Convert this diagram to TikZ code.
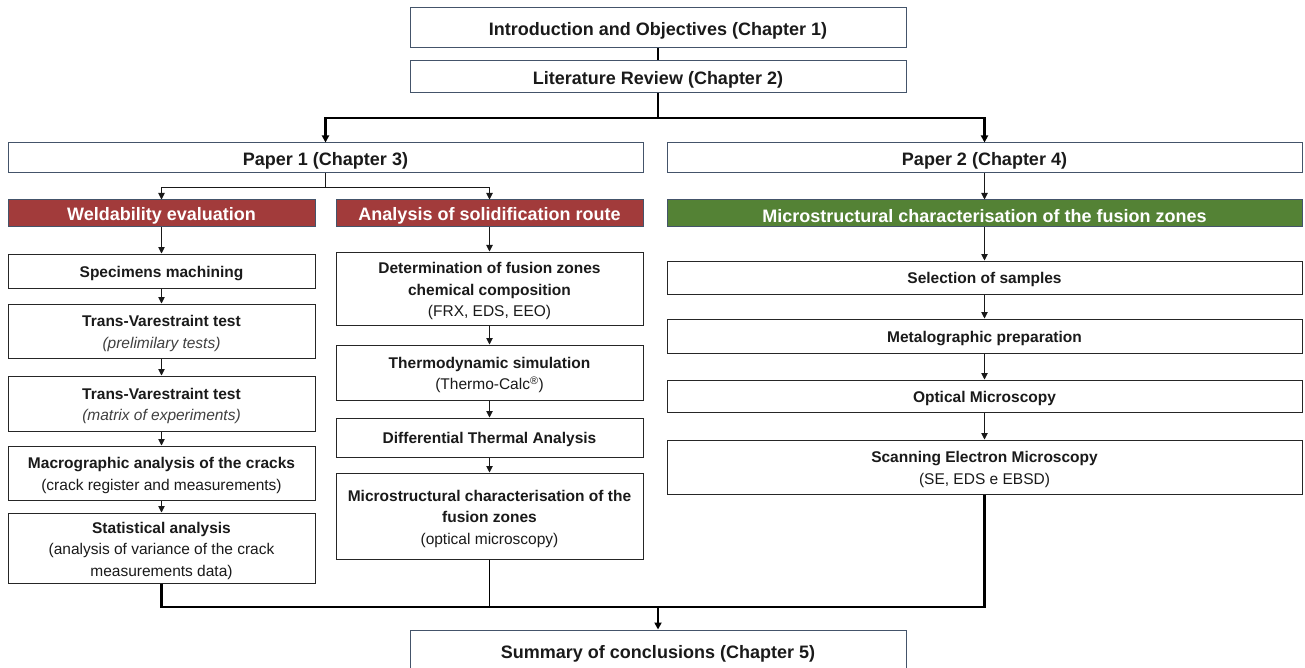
\documentclass[tikz,border=0pt]{standalone}
\usepackage{fontspec}
\setmainfont{Liberation Sans}
\usetikzlibrary{arrows.meta}
\definecolor{weldred}{HTML}{A23B3B}
\definecolor{fzgreen}{HTML}{548235}
\definecolor{slateb}{HTML}{44546A}
\definecolor{subgray}{HTML}{404040}
\definecolor{txtblack}{HTML}{1A1A1A}
\newcommand{\tstrut}{\rule{0pt}{16.5pt}}
\begin{document}
\begin{tikzpicture}[x=1pt,y=-1pt,
  topbox/.style={draw=slateb, line width=1pt, fill=white, inner sep=0pt, align=center, text=txtblack, font=\fontsize{18}{22}\selectfont\bfseries, execute at begin node={\rule{0pt}{18.5pt}}},
  hdrbox/.style={draw=slateb, line width=1pt, inner sep=0pt, align=center, text=white, font=\fontsize{18}{22}\selectfont\bfseries, execute at begin node={\rule{0pt}{18pt}}},
  stepbox/.style={draw=black!85, line width=1pt, fill=white, inner sep=0pt, align=center, text=txtblack, font=\fontsize{15.5}{21.5}\selectfont, execute at begin node={\rule{0pt}{16pt}}},
  arr/.style={line width=0.9pt, draw=black!90, -{Triangle[length=6.5pt,width=6.5pt]}},
  thk/.style={line width=2.2pt, draw=black},
  thkarr/.style={line width=2.2pt, draw=black, -{Triangle[length=7pt,width=7pt]}}
]
\useasboundingbox (0,0) rectangle (1305,668);

% top
\node[topbox, minimum width=496pt, minimum height=40pt] (intro) at (658,28) {Introduction and Objectives (Chapter 1)};
\node[topbox, minimum width=496pt, minimum height=32pt] (lit) at (658,77) {Literature Review (Chapter 2)};
\node[topbox, minimum width=635pt, minimum height=30pt] (p1) at (325.5,158) {Paper 1 (Chapter 3)};
\node[topbox, minimum width=635pt, minimum height=30pt] (p2) at (984.5,158) {Paper 2 (Chapter 4)};

% headers
\node[hdrbox, fill=weldred, minimum width=307pt, minimum height=27pt] (weld) at (161.5,213.5) {Weldability evaluation};
\node[hdrbox, fill=weldred, minimum width=307pt, minimum height=27pt] (anal) at (489.5,213.5) {Analysis of solidification route};
\node[hdrbox, fill=fzgreen, minimum width=635pt, minimum height=27pt] (green) at (984.5,213.5) {Microstructural characterisation of the fusion zones};

% left column
\node[stepbox, minimum width=307pt, minimum height=34pt] (spec) at (161.5,271) {\textbf{Specimens machining}};
\node[stepbox, minimum width=307pt, minimum height=54pt] (tv1) at (161.5,331) {\tstrut\textbf{Trans-Varestraint test}\\\textcolor{subgray}{\itshape (prelimilary tests)}};
\node[stepbox, minimum width=307pt, minimum height=55pt] (tv2) at (161.5,403.5) {\tstrut\textbf{Trans-Varestraint test}\\\textcolor{subgray}{\itshape (matrix of experiments)}};
\node[stepbox, minimum width=307pt, minimum height=54pt] (macro) at (161.5,473) {\tstrut\textbf{Macrographic analysis of the cracks}\\(crack register and measurements)};
\node[stepbox, minimum width=307pt, minimum height=70pt] (stat) at (161.5,548) {\tstrut\textbf{Statistical analysis}\\(analysis of variance of the crack\\measurements data)};

% middle column
\node[stepbox, minimum width=307pt, minimum height=73pt] (det) at (489.5,288.5) {\tstrut\textbf{Determination of fusion zones}\\\textbf{chemical composition}\\(FRX, EDS, EEO)};
\node[stepbox, minimum width=307pt, minimum height=55pt] (thermo) at (489.5,372.5) {\tstrut\textbf{Thermodynamic simulation}\\(Thermo-Calc\textsuperscript{®})};
\node[stepbox, minimum width=307pt, minimum height=39pt] (dta) at (489.5,437.5) {\textbf{Differential Thermal Analysis}};
\node[stepbox, minimum width=307pt, minimum height=86pt] (micro) at (489.5,516) {\tstrut\textbf{Microstructural characterisation of the}\\\textbf{fusion zones}\\(optical microscopy)};

% right column
\node[stepbox, minimum width=635pt, minimum height=33pt] (sel) at (984.5,277.5) {\textbf{Selection of samples}};
\node[stepbox, minimum width=635pt, minimum height=34pt] (meta) at (984.5,336) {\textbf{Metalographic preparation}};
\node[stepbox, minimum width=635pt, minimum height=32pt] (opt) at (984.5,396) {\textbf{Optical Microscopy}};
\node[stepbox, minimum width=635pt, minimum height=54pt] (sem) at (984.5,467) {\tstrut\textbf{Scanning Electron Microscopy}\\(SE, EDS e EBSD)};

% summary
\node[topbox, minimum width=496pt, minimum height=42pt] (summ) at (658,651) {Summary of conclusions (Chapter 5)};

% junction levels
\coordinate (h1) at (0,118);
\coordinate (h2) at (0,187);
\coordinate (h3) at (0,607);

% connectors
\draw[line width=1.2pt] (intro.south) -- (lit.north);
\draw[thkarr] (lit.south) -- (lit.south |- h1) -| (p1.north);
\draw[thkarr] (lit.south) -- (lit.south |- h1) -| (p2.north);

\draw[arr] (p1.south) -- (p1.south |- h2) -| (weld.north);
\draw[arr] (p1.south) -- (p1.south |- h2) -| (anal.north);
\draw[arr] (p2.south) -- (green.north);

\draw[arr] (weld.south) -- (spec.north);
\draw[arr] (spec.south) -- (tv1.north);
\draw[arr] (tv1.south) -- (tv2.north);
\draw[arr] (tv2.south) -- (macro.north);
\draw[arr] (macro.south) -- (stat.north);

\draw[arr] (anal.south) -- (det.north);
\draw[arr] (det.south) -- (thermo.north);
\draw[arr] (thermo.south) -- (dta.north);
\draw[arr] (dta.south) -- (micro.north);

\draw[arr] (green.south) -- (sel.north);
\draw[arr] (sel.south) -- (meta.north);
\draw[arr] (meta.south) -- (opt.north);
\draw[arr] (opt.south) -- (sem.north);

\draw[thk] (stat.south) -- (stat.south |- h3) -- (sem.south |- h3) -- (sem.south);
\draw[line width=1.4pt] (micro.south) -- (micro.south |- h3);
\draw[thkarr] (summ.north |- h3) -- (summ.north);
\end{tikzpicture}
\end{document}
